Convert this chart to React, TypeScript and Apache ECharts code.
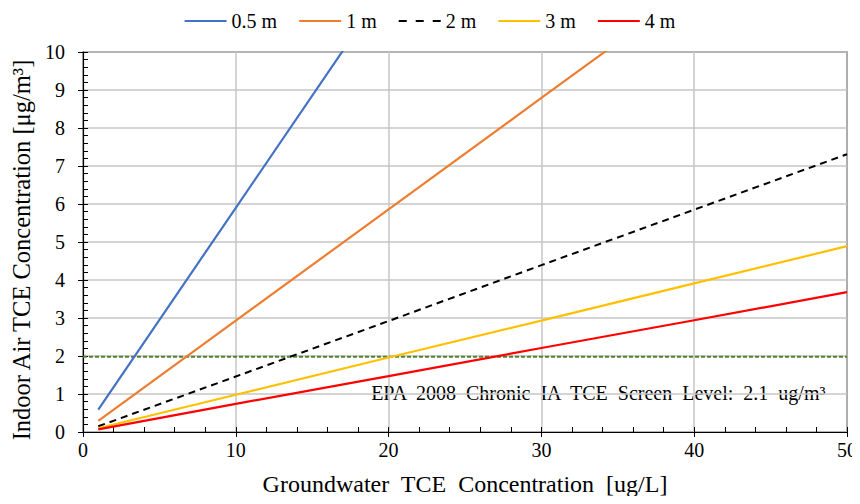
import React, { useEffect, useRef } from "react";
import * as echarts from "echarts";

const xValues = [1, 10, 20, 30, 40, 50];
const s05 = [0.59, 5.9, 11.8, 17.7, 23.6, 29.5];
const s1 = [0.29, 2.93, 5.86, 8.79, 11.72, 14.65];
const s2 = [0.15, 1.46, 2.92, 4.39, 5.85, 7.31];
const s3 = [0.1, 0.98, 1.96, 2.93, 3.91, 4.89];
const s4 = [0.07, 0.74, 1.47, 2.21, 2.94, 3.68];
const screenX = [0, 50];
const screenY = [1.98, 1.98];
const seriesNames = ["0.5 m", "1 m", "2 m", "3 m", "4 m"];
const seriesColors = ["#4472C4", "#ED7D31", "#000000", "#FFC000", "#FF0000"];
const seriesData = [s05, s1, s2, s3, s4];

const FONT = "Liberation Serif";

export default function App() {
  const ref = useRef<HTMLDivElement>(null);
  useEffect(() => {
    if (!ref.current) return;
    const chart = echarts.init(ref.current, undefined, { renderer: "svg" });
    const lineSeries = seriesNames.map((name, i) => ({
      name,
      type: "line",
      symbol: "none",
      xAxisIndex: 0,
      yAxisIndex: 0,
      data: xValues.map((x, j) => [x, seriesData[i][j]]),
      lineStyle: {
        color: seriesColors[i],
        width: i === 2 ? 2 : 2.2,
        type: i === 2 ? [7, 5] : "solid",
      },
      itemStyle: { color: seriesColors[i] },
      z: 3 + (i === 2 ? 0 : 1),
    }));
    chart.setOption({
      animation: false,
      grid: {
        left: 83,
        right: 12,
        top: 52,
        bottom: 72,
        show: true,
        borderColor: "#000",
        borderWidth: 1.2,
      },
      legend: {
        top: 6,
        left: "center",
        itemWidth: 42,
        itemHeight: 12,
        itemGap: 22,
        icon: "path://M0,5 L42,5 L42,7 L0,7 Z",
        textStyle: { fontFamily: FONT, fontSize: 20, color: "#000" },
        data: seriesNames.map((n, i) =>
          i === 2
            ? { name: n, icon: "path://M0,5 L8,5 L8,7 L0,7 Z M17,5 L25,5 L25,7 L17,7 Z M34,5 L42,5 L42,7 L34,7 Z" }
            : { name: n }
        ),
      },
      xAxis: [
        {
          type: "value",
          min: 0,
          max: 50,
          interval: 10,
          name: "Groundwater  TCE  Concentration  [ug/L]",
          nameLocation: "middle",
          nameGap: 40,
          nameTextStyle: { fontFamily: FONT, fontSize: 24, color: "#000" },
          axisLine: { show: true, lineStyle: { color: "#000", width: 1.2 } },
          axisTick: { show: true, inside: false, length: 5, lineStyle: { color: "#000" } },
          minorTick: { show: false },
          axisLabel: { fontFamily: FONT, fontSize: 20, color: "#000", margin: 8 },
          splitLine: { show: true, lineStyle: { color: "#c6c6c6", width: 1.5 } },
        },
        {
          type: "value",
          min: 0,
          max: 50,
          interval: 10,
          position: "bottom",
          axisLine: { show: false },
          axisTick: { show: true, inside: true, length: 5, lineStyle: { color: "#000" } },
          minorTick: { show: true, splitNumber: 5, length: 5, lineStyle: { color: "#000" } },
          axisLabel: { show: false },
          splitLine: { show: false },
        },
      ],
      yAxis: [
        {
          type: "value",
          min: 0,
          max: 10,
          interval: 1,
          name: "Indoor Air TCE Concentration [μg/m³]",
          nameLocation: "middle",
          nameGap: 44,
          nameTextStyle: { fontFamily: FONT, fontSize: 24.5, color: "#000", padding: [0, 16, 0, 0] },
          axisLine: { show: true, lineStyle: { color: "#000", width: 1.2 } },
          axisTick: { show: true, inside: false, length: 5, lineStyle: { color: "#000" } },
          minorTick: { show: false },
          axisLabel: { fontFamily: FONT, fontSize: 20, color: "#000", margin: 18 },
          splitLine: { show: true, lineStyle: { color: "#c6c6c6", width: 1.5 } },
        },
        {
          type: "value",
          min: 0,
          max: 10,
          interval: 1,
          position: "left",
          axisLine: { show: false },
          axisTick: { show: true, inside: true, length: 5, lineStyle: { color: "#000" } },
          minorTick: { show: true, splitNumber: 5, length: 5, lineStyle: { color: "#000" } },
          axisLabel: { show: false },
          splitLine: { show: false },
        },
      ],
      series: [
        {
          name: "EPA screen level",
          type: "line",
          symbol: "none",
          data: screenX.map((x, j) => [x, screenY[j]]),
          lineStyle: { color: "#548235", width: 1.8, type: [4, 2] },
          z: 2,
        },
        ...lineSeries,
      ],
      graphic: [
        {
          type: "text",
          right: 32,
          top: 383,
          style: {
            text: "EPA  2008  Chronic  IA  TCE  Screen  Level:  2.1  ug/m³",
            fontFamily: FONT,
            fontSize: 20,
            fill: "#000",
            backgroundColor: "#fff",
          },
        },
      ],
    });
    return () => chart.dispose();
  }, []);
  return <div ref={ref} style={{ width: 860, height: 504, margin: -8 }} />;
}
